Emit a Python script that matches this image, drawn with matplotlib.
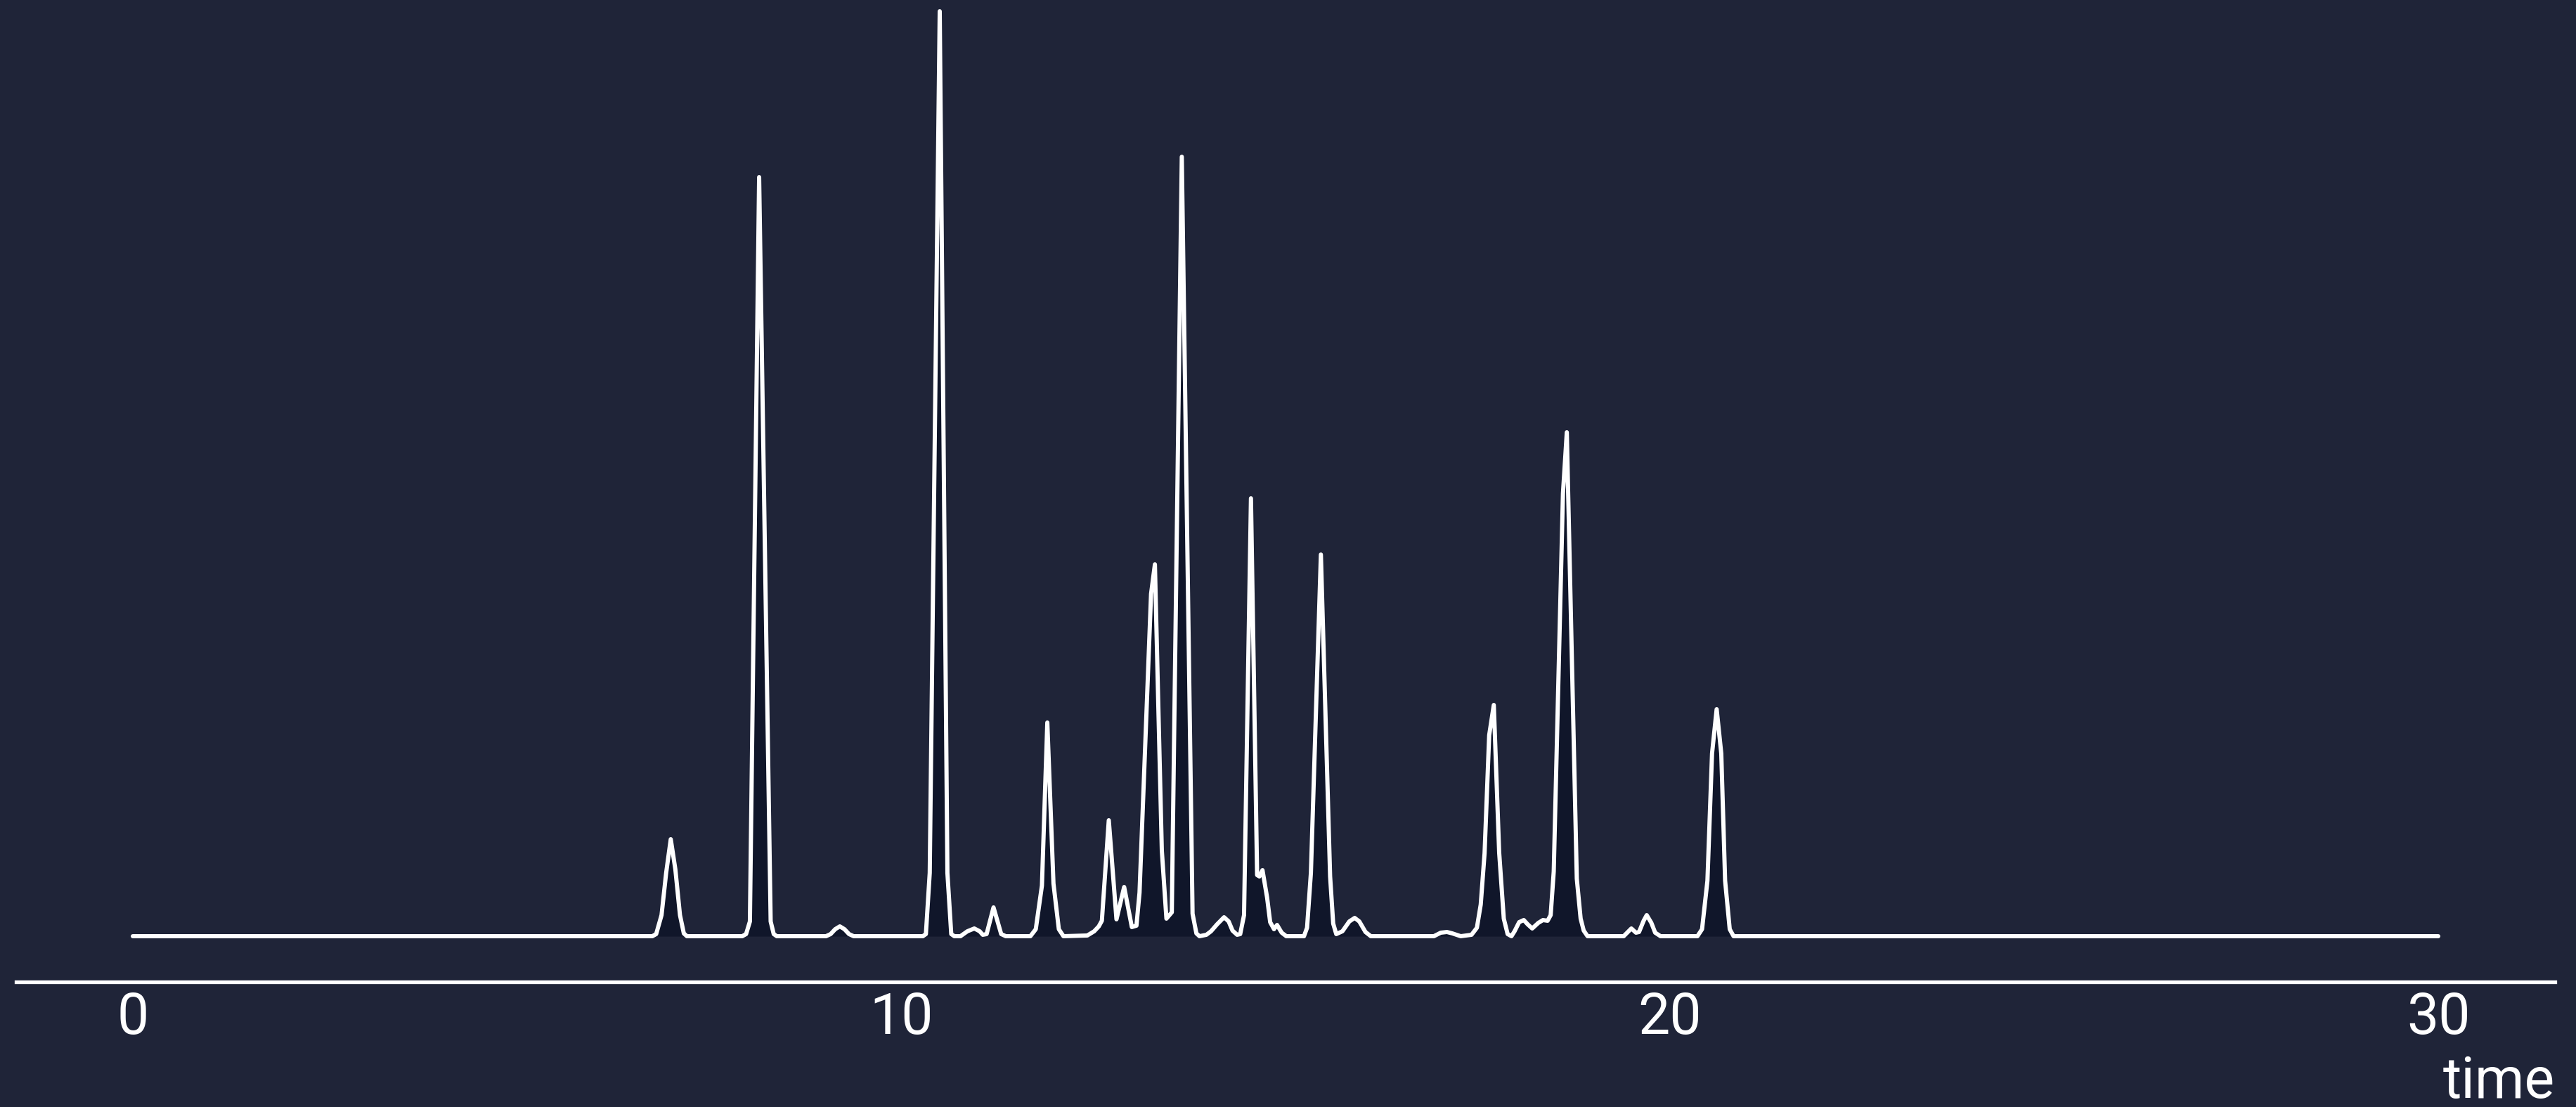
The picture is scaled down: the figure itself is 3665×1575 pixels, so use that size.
import matplotlib
matplotlib.use("Agg")
import matplotlib.pyplot as plt

# Chromatogram trace: retention time (min) and detector signal (arbitrary units)
time = [
    0.00, 6.76, 6.81, 6.88, 6.94, 7.00, 7.06, 7.12, 7.17, 7.21,
    7.93, 7.98, 8.03, 8.15, 8.30, 8.34, 8.38,
    9.02, 9.08, 9.14, 9.20, 9.26, 9.32, 9.38,
    10.28, 10.32, 10.37, 10.50, 10.60, 10.65, 10.69,
    10.77, 10.86, 10.95, 11.02, 11.06, 11.11, 11.20, 11.30, 11.36,
    11.68, 11.75, 11.83, 11.90, 11.98, 12.05, 12.11,
    12.42, 12.51, 12.57, 12.61, 12.70, 12.80, 12.90, 13.00, 13.06, 13.10,
    13.25, 13.30, 13.39, 13.45, 13.52, 13.65, 13.79, 13.84, 13.88,
    13.97, 14.03, 14.11, 14.20, 14.26, 14.31, 14.37, 14.41, 14.46, 14.55,
    14.63, 14.66, 14.70, 14.76, 14.80, 14.85, 14.89, 14.95, 15.01,
    15.24, 15.28, 15.33, 15.46, 15.58, 15.62, 15.66,
    15.74, 15.83, 15.90, 15.96, 16.04, 16.11,
    16.93, 17.02, 17.10, 17.17, 17.28,
    17.42, 17.49, 17.54, 17.59, 17.65, 17.71, 17.78, 17.84, 17.89, 17.94,
    17.98, 18.04, 18.10, 18.15, 18.21, 18.29, 18.35, 18.41, 18.45, 18.49,
    18.61, 18.66, 18.79, 18.84, 18.88, 18.93,
    19.40, 19.50, 19.56, 19.60, 19.66, 19.70, 19.76, 19.81, 19.88,
    20.36, 20.42, 20.49, 20.55, 20.61, 20.67, 20.72, 20.78, 20.83,
    30.00,
]

signal = [
    0, 0, 3, 30, 90, 138, 95, 30, 4, 0,
    0, 3, 21, 1080, 21, 3, 0,
    0, 3, 10, 14, 10, 3, 0,
    0, 3, 90, 1316, 90, 3, 0,
    0, 7, 11, 7, 2, 3, 41, 3, 0,
    0, 10, 72, 304, 75, 10, 0,
    1, 7, 14, 22, 165, 24, 70, 13, 15, 62,
    487, 529, 122, 25, 34, 1109, 32, 4, 0,
    2, 7, 17, 27, 21, 8, 2, 3, 30, 623,
    87, 85, 94, 55, 20, 10, 16, 5, 0,
    0, 12, 90, 543, 85, 18, 3,
    7, 21, 26, 21, 6, 0,
    0, 5, 6, 4, 0,
    2, 12, 45, 118, 286, 329, 119, 25, 3, 0,
    7, 20, 23, 17, 11, 19, 23, 22, 30, 92,
    630, 717, 82, 25, 8, 0,
    0, 11, 5, 6, 22, 30, 19, 5, 0,
    0, 10, 79, 260, 323, 260, 79, 10, 0,
    0,
]

x_ticks = [0, 10, 20, 30]
x_label = "time"

BG = "#1f2438"
FILL = "#10162a"
FG = "#ffffff"

plt.rcParams["font.family"] = ["Roboto", "DejaVu Sans"]

W, H = 3665, 1575
fig = plt.figure(figsize=(W / 100, H / 100), dpi=100, facecolor=BG)
ax = fig.add_axes([23 / W, (H - 1397) / H, (3635 - 23) / W, 1397 / H])
ax.set_facecolor(BG)

ax.fill_between(time, signal, 0, color=FILL, linewidth=0, zorder=1)
ax.plot(time, signal, color=FG, linewidth=4.3, solid_joinstyle="round",
        solid_capstyle="round", zorder=2)

ax.set_xlim(-1.518, 31.518)
ax.set_ylim(-65, 1332)

for side in ("left", "right", "top"):
    ax.spines[side].set_visible(False)
ax.spines["bottom"].set_color(FG)
ax.spines["bottom"].set_linewidth(3.8)

ax.set_yticks([])
ax.set_xticks(x_ticks)
ax.set_xticklabels([str(t) for t in x_ticks])
ax.tick_params(axis="x", length=0, pad=9, labelsize=58, labelcolor=FG)

fig.text(3635 / W, 1 - 1562 / H, x_label, ha="right", va="baseline",
         fontsize=58, color=FG)

fig.savefig("out.png", dpi=100, facecolor=BG)
